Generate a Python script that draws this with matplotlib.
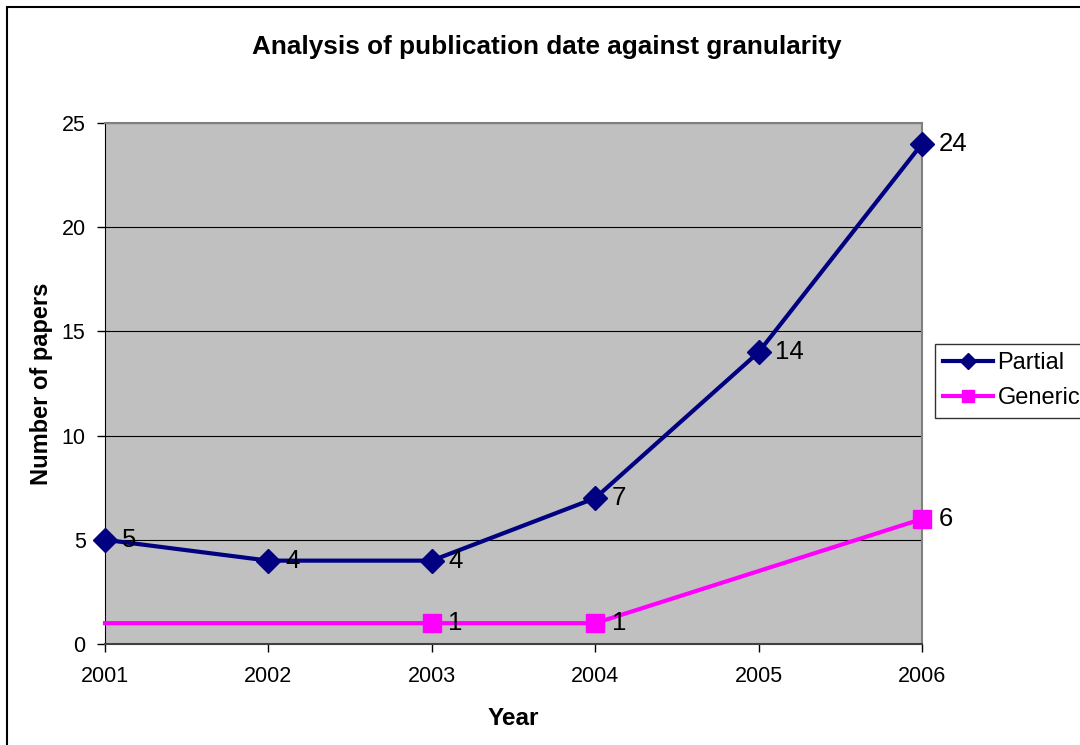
import matplotlib
matplotlib.use("Agg")
import matplotlib.pyplot as plt
from matplotlib.patches import Rectangle
from matplotlib.lines import Line2D

plt.rcParams['font.family'] = ['Liberation Sans', 'DejaVu Sans']

years = [2001, 2002, 2003, 2004, 2005, 2006]
partial = [5, 4, 4, 7, 14, 24]
generic_years = [2001, 2002, 2003, 2004, 2006]
generic = [1, 1, 1, 1, 6]
generic_marked = [2, 3, 4]  # indices with markers
title = "Analysis of publication date against granularity"

fig = plt.figure(figsize=(10.8, 7.45), dpi=100)
ax = fig.add_axes([105/1080, 1-644/745, (922-105)/1080, (644-123)/745])
ax.set_facecolor('#c0c0c0')

ax.plot(generic_years, generic, color='#ff00ff', lw=3, marker='s', ms=13,
        markevery=generic_marked, zorder=3, clip_on=False)
ax.plot(years, partial, color='#000080', lw=3, marker='D', ms=12,
        zorder=4, clip_on=False)

for x, y in zip(years, partial):
    ax.annotate(str(y), (x, y), xytext=(12, 0), textcoords='offset points',
                ha='left', va='center', fontsize=18.5, zorder=5)
for i in generic_marked:
    ax.annotate(str(generic[i]), (generic_years[i], generic[i]), xytext=(12, 0),
                textcoords='offset points', ha='left', va='center', fontsize=18.5, zorder=5)

ax.set_xlim(2001, 2006)
ax.set_ylim(0, 25)
ax.set_xticks(years)
ax.set_xticklabels([str(y) for y in years], fontsize=15.5)
ax.set_yticks(range(0, 26, 5))
ax.set_yticklabels([str(v) for v in range(0, 26, 5)], fontsize=15.5)
ax.tick_params(direction='out', length=6, width=1, color='black')
ax.tick_params(axis='x', pad=10)
ax.tick_params(axis='y', pad=8)
ax.yaxis.grid(True, color='black', lw=0.8)
ax.set_axisbelow(True)
for s in ['top', 'right']:
    ax.spines[s].set_color('#808080')
    ax.spines[s].set_linewidth(1.5)
ax.spines['left'].set_color('black')
ax.spines['bottom'].set_color('#404040')
ax.spines['bottom'].set_linewidth(1.5)

ax.set_xlabel('Year', fontsize=17.5, fontweight='bold', labelpad=14)
ax.set_ylabel('Number of papers', fontsize=17, fontweight='bold', labelpad=6)
fig.text(547/1080, 1-47/745, title, ha='center', va='center', fontsize=18.8, fontweight='bold')

handles = [Line2D([], [], color='#000080', lw=3, marker='D', ms=8),
           Line2D([], [], color='#ff00ff', lw=3, marker='s', ms=8)]
leg = fig.legend(handles, ['Partial', 'Generic'], loc='upper left',
                 bbox_to_anchor=(935/1080, 1-344/745), fontsize=17,
                 frameon=True, fancybox=False, edgecolor='black',
                 handlelength=2.1, borderpad=0.35, labelspacing=0.55,
                 handletextpad=0.2, borderaxespad=0)
leg.get_frame().set_linewidth(1)

fig.patches.append(Rectangle((7/1080, -0.1), 1.2, (1-7/745)+0.1, transform=fig.transFigure,
                             fill=False, edgecolor='black', lw=1.5))

fig.savefig('out.png', dpi=100)
